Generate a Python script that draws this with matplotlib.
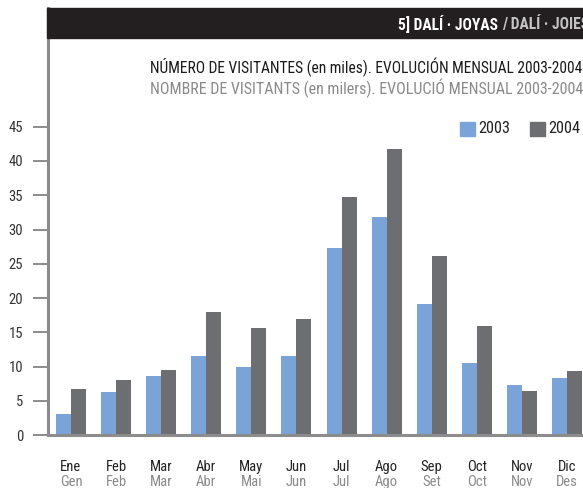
import matplotlib
matplotlib.use("Agg")
import matplotlib.pyplot as plt
from matplotlib.patches import Rectangle
from matplotlib import font_manager as fm
import numpy as np

months_es = ["Ene", "Feb", "Mar", "Abr", "May", "Jun", "Jul", "Ago", "Sep", "Oct", "Nov", "Dic"]
months_ca = ["Gen", "Feb", "Mar", "Abr", "Mai", "Jun", "Jul", "Ago", "Set", "Oct", "Nov", "Des"]
v2003 = [3.1, 6.3, 8.6, 11.6, 10.0, 11.6, 27.3, 31.8, 19.1, 10.6, 7.3, 8.4]
v2004 = [6.8, 8.1, 9.5, 18.0, 15.6, 17.0, 34.7, 41.8, 26.2, 15.9, 6.5, 9.4]
yticks = [0, 5, 10, 15, 20, 25, 30, 35, 40, 45]
series_names = ["2003", "2004"]


def pick_font(bold=False):
    prefs = ["Liberation Sans Narrow", "Roboto Condensed", "Open Sans Condensed",
             "Noto Sans", "DejaVu Sans", "Roboto", "Open Sans"]
    cands = []
    for f in fm.fontManager.ttflist:
        narrow = ("Narrow" in f.name or "Condensed" in f.name or
                  f.stretch in ("condensed", "semi-condensed", "extra-condensed") or
                  "Condensed" in f.fname or "Narrow" in f.fname)
        if not narrow or f.style != "normal":
            continue
        w = f.weight if isinstance(f.weight, int) else (700 if "bold" in str(f.weight) else 400)
        if bold and w < 600:
            continue
        if not bold and not (350 <= w <= 500):
            continue
        pri = 50 if ("Semi" in f.fname or "Extra" in f.fname or "Ultra" in f.fname) else 0
        rank = next((i for i, p in enumerate(prefs) if f.name.startswith(p)), len(prefs))
        cands.append((rank + pri, f.fname))
    if cands:
        cands.sort()
        return fm.FontProperties(fname=cands[0][1])
    return fm.FontProperties(family="DejaVu Sans", weight="bold" if bold else "normal",
                             stretch="condensed")


FP = pick_font(False)
FPB = pick_font(True)

BLUE = "#7aa3d8"
GRAY = "#6d6e71"
AXC = "#8c8c8c"

W, H = 583, 488
fig = plt.figure(figsize=(W / 100, H / 100), dpi=100)
fig.canvas.draw()
R = fig.canvas.get_renderer()


def fx(px):
    return px / W


def fy(py):
    return 1 - py / H


def fp(base, size):
    p = base.copy()
    p.set_size(size)
    return p


def fitted_size(s, base, size, target_w, max_size=None):
    t = fig.text(0, 0, s, fontproperties=fp(base, size))
    w = t.get_window_extent(R).width
    t.remove()
    ns = size * target_w / w
    if max_size is not None:
        ns = min(ns, max_size)
    return ns


def fit_text(xpx, ypx, s, base, size, target_w, max_size=None, **kw):
    ns = fitted_size(s, base, size, target_w, max_size)
    return fig.text(fx(xpx), fy(ypx), s, fontproperties=fp(base, ns), **kw)


y0_px, ytop_px = 435.3, 8
left_px = 48
ax = fig.add_axes([fx(left_px), fy(y0_px), 1 - fx(left_px), (y0_px - ytop_px) / H])
pxu = 6.86
ax.set_ylim(0, (y0_px - ytop_px) / pxu)
spacing = 45.09
ax.set_xlim(-0.51, -0.51 + (W - left_px) / spacing)

x = np.arange(len(months_es))
bw = 1 / 3
ax.bar(x - bw / 2, v2003, width=bw, color=BLUE, linewidth=0)
ax.bar(x + bw / 2, v2004, width=bw, color=GRAY, linewidth=0)

for s in ["top", "right"]:
    ax.spines[s].set_visible(False)
for s in ["left", "bottom"]:
    ax.spines[s].set_color(AXC)
    ax.spines[s].set_linewidth(2.2)

ax.set_yticks(yticks)
ax.set_yticklabels([str(t) for t in yticks])
ax.tick_params(axis="y", length=10.8, width=1.4, color=AXC, pad=7,
               labelcolor="#333333")
for lab in ax.get_yticklabels():
    lab.set_fontproperties(fp(FP, 10.5))
ax.set_xticks([])

tr = ax.get_xaxis_transform()
for i, (a, b) in enumerate(zip(months_es, months_ca)):
    ax.text(i, -(466.7 - y0_px) / (y0_px - ytop_px), a, transform=tr, ha="center", va="center",
            fontproperties=fp(FP, 10.5), color="#222222", clip_on=False)
    ax.text(i, -(481.7 - y0_px) / (y0_px - ytop_px), b, transform=tr, ha="center", va="center",
            fontproperties=fp(FP, 10.5), color="#8a8a8a", clip_on=False)

# header bar
fig.patches.append(Rectangle((fx(47), fy(38)), 1 - fx(47), (38 - 8) / H,
                             transform=fig.transFigure, color="#231f20", zorder=5))
hsize = fitted_size("5] DALÍ · JOYAS / DALÍ · JOIES", FPB, 12.5, 190, max_size=12.5)
t1 = fig.text(fx(398), fy(24), "5] DALÍ · JOYAS ", color="white",
              fontproperties=fp(FPB, hsize), va="center", ha="left", zorder=6)
bb = t1.get_window_extent(R)
fig.text(bb.x1 / W, fy(24), "/ DALÍ · JOIES", color="#c4c4c4",
         fontproperties=fp(FPB, hsize), va="center", ha="left", zorder=6)

# titles
fit_text(150, 67, "NÚMERO DE VISITANTES (en miles). EVOLUCIÓN MENSUAL 2003-2004",
         FP, 11.5, 434, max_size=12, color="#1a1a1a", va="center", ha="left")
fit_text(150, 88, "NOMBRE DE VISITANTS (en milers). EVOLUCIÓ MENSUAL 2003-2004",
         FP, 11.5, 434, max_size=12, color="#8a8a8a", va="center", ha="left")

# legend
for (lx, tx, col, name) in [(460, 478, BLUE, series_names[0]), (530, 548, GRAY, series_names[1])]:
    fig.patches.append(Rectangle((fx(lx), fy(135.5)), 14.5 / W, 14 / H,
                                 transform=fig.transFigure, color=col))
    fit_text(tx, 128.5, name, FP, 13, 32, max_size=13.5, color="#222222",
             va="center", ha="left")

fig.savefig("out.png", dpi=100)
